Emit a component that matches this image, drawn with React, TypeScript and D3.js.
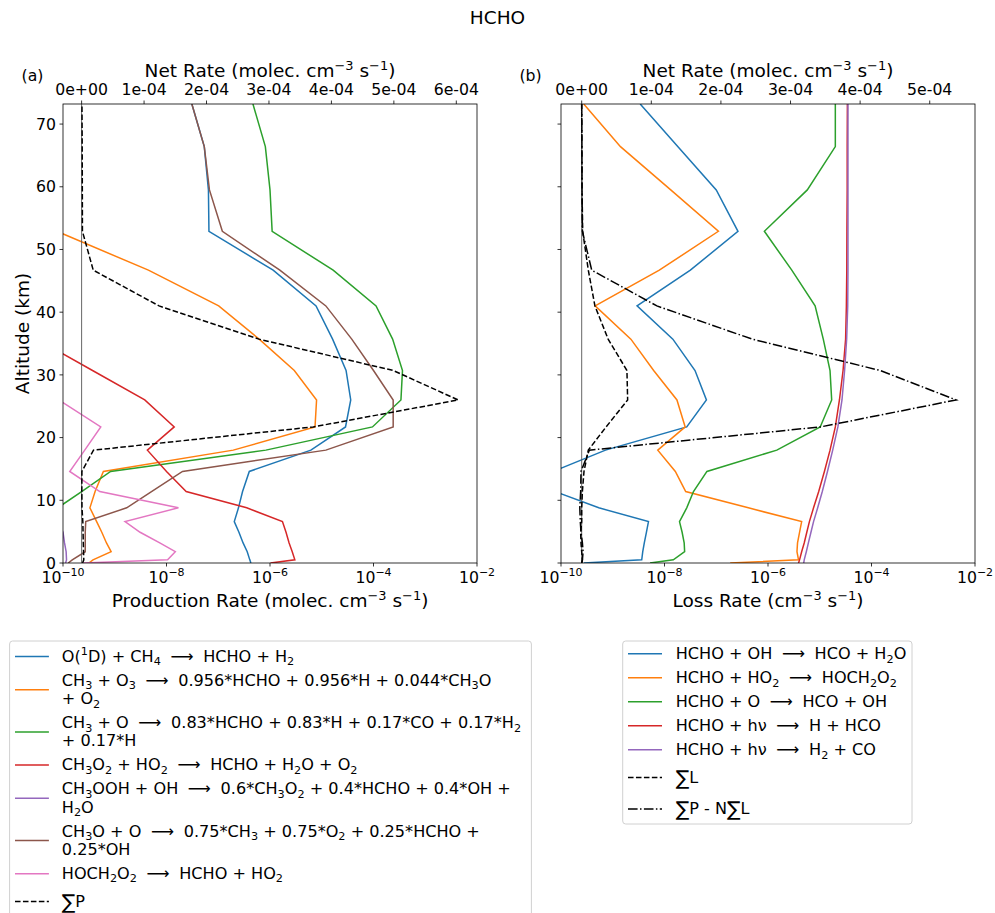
import React from "react";
import * as d3 from "d3";

// Altitude levels (km)
const ALT = [0, 0.5, 1.8, 3.2, 4.9, 6.6, 8.8, 11.4, 14.6, 18.0, 21.7, 26.0, 30.7, 35.7, 41.0, 46.7, 52.9, 59.5, 66.4, 73.2];

// (a) production rates (molec cm^-3 s^-1)
const P_O1D_CH4 = [4.27e-7, 4.07e-7, 3.63e-7, 3.02e-7, 2.51e-7, 2.04e-7, 2.46e-7, 2.95e-7, 3.98e-7, 6.17e-6, 2.88e-5, 3.63e-5, 2.95e-5, 1.62e-5, 7.76e-6, 1.15e-6, 6.61e-8, 6.46e-8, 5.37e-8, 3.09e-8];
const P_CH3_O3 = [3.16e-10, 3.8e-10, 8.51e-10, 6.92e-10, 5.62e-10, 4.47e-10, 3.31e-10, 4.17e-10, 6.03e-10, 1.95e-7, 7.41e-6, 7.94e-6, 2.95e-6, 6.17e-7, 1.02e-7, 4.47e-9, 7.59e-11, 1e-11, 1e-12, 1e-13];
const P_CH3_O = [1e-11, 1e-11, 1e-11, 1e-11, 1.6e-11, 2.5e-11, 7.94e-11, 2.29e-10, 8.32e-10, 8.32e-7, 9.55e-5, 3.39e-4, 3.63e-4, 2.34e-4, 1.12e-4, 1.66e-5, 1.1e-6, 1.0e-6, 8.13e-7, 4.68e-7];
const P_CH3O2_HO2 = [1.02e-6, 3.02e-6, 2.69e-6, 2.34e-6, 2.04e-6, 1.74e-6, 3.55e-7, 2.4e-8, 1.0e-8, 4.27e-9, 1.41e-8, 3.8e-9, 3.72e-10, 3.16e-11, 1e-12, 1e-13, 1e-14, 1e-14, 1e-14, 1e-14];
const P_CH3OOH_OH = [1.12e-10, 1.17e-10, 1.15e-10, 1.07e-10, 1.0e-10, 7.94e-11, 5.01e-11, 3e-11, 2e-11, 1e-11, 1e-11, 1e-11, 1e-11, 1e-11, 1e-11, 1e-11, 1e-11, 1e-11, 1e-11, 1e-11];
const P_CH3O_O = [1.26e-10, 1.51e-10, 2.69e-10, 2.69e-10, 2.69e-10, 2.75e-10, 1.7e-9, 5.13e-9, 2.04e-8, 1.2e-5, 2.4e-4, 2.4e-4, 1.0e-4, 3.8e-5, 1.2e-5, 1.55e-6, 1.2e-7, 6.76e-8, 5.37e-8, 3.09e-8];
const P_HOCH2O2 = [2.45e-10, 1.05e-8, 1.48e-8, 7.41e-9, 3.09e-9, 1.58e-9, 1.7e-8, 5.13e-10, 1.35e-10, 2.63e-10, 5.37e-10, 8.32e-11, 1e-11, 1e-12, 1e-13, 1e-13, 1e-13, 1e-13, 1e-13, 1e-13];
const SUM_P = [1.5e-6, 3.5e-6, 3.1e-6, 2.7e-6, 2.3e-6, 1.95e-6, 6.0e-7, 3.2e-7, 4.3e-7, 1.9e-5, 3.71e-4, 6.03e-4, 4.99e-4, 2.84e-4, 1.24e-4, 1.86e-5, 1.3e-6, 1.13e-6, 9.2e-7, 5.3e-7];

// (b) loss rates (cm^-3 s^-1)
const L_OH = [2.75e-10, 3.63e-9, 3.8e-9, 4.07e-9, 4.47e-9, 4.9e-9, 5.37e-10, 7.59e-11, 7.08e-11, 7.24e-10, 2.69e-8, 6.46e-8, 3.89e-8, 1.45e-8, 2.95e-9, 3.16e-8, 2.63e-7, 1.0e-7, 1.82e-8, 3.39e-9];
const L_HO2 = [1.86e-7, 3.89e-6, 3.63e-6, 3.72e-6, 4.07e-6, 4.47e-6, 4.17e-7, 2.57e-8, 1.62e-8, 7.41e-9, 2.51e-8, 1.74e-8, 6.17e-9, 2.24e-9, 4.57e-10, 7.94e-9, 1.1e-7, 1.32e-8, 1.41e-9, 2.75e-10];
const L_O = [5.25e-9, 1.48e-8, 2.45e-8, 2.4e-8, 2.19e-8, 1.95e-8, 2.69e-8, 3.63e-8, 6.61e-8, 1.48e-6, 1.02e-5, 1.7e-5, 1.58e-5, 1.17e-5, 8.13e-6, 2.88e-6, 8.51e-7, 5.75e-6, 2.0e-5, 2.0e-5];
const L_HV_H = [3.89e-6, 4.07e-6, 4.47e-6, 5.01e-6, 5.62e-6, 6.31e-6, 7.59e-6, 9.55e-6, 1.23e-5, 1.58e-5, 2.0e-5, 2.4e-5, 2.82e-5, 3.16e-5, 3.27e-5, 3.33e-5, 3.35e-5, 3.39e-5, 3.39e-5, 3.42e-5];
const L_HV_H2 = [4.9e-6, 5.01e-6, 5.5e-6, 6.03e-6, 6.76e-6, 7.59e-6, 9.12e-6, 1.12e-5, 1.41e-5, 1.78e-5, 2.24e-5, 2.69e-5, 3.02e-5, 3.31e-5, 3.47e-5, 3.51e-5, 3.51e-5, 3.51e-5, 3.51e-5, 3.51e-5];
const SUM_L = [0, 1e-6, 0, -1e-6, -1.5e-6, 0, 0, 1e-6, 3.3e-6, 9.5e-6, 3.5e-5, 6.6e-5, 6.5e-5, 3.8e-5, 1.9e-5, 9.5e-6, 1.4e-6, 5e-7, 3e-7, 0];
const NET = [0, 1e-6, 2e-6, 1e-6, -1e-6, -2e-6, -2.7e-6, -1.5e-6, -1e-6, 1.1e-5, 3.43e-4, 5.38e-4, 4.29e-4, 2.45e-4, 1.08e-4, 1.44e-5, 1e-6, 5e-7, 3e-7, 0];

const LOG_TICKS = [1e-10, 1e-8, 1e-6, 1e-4, 1e-2];
const ALT_TICKS = [0, 10, 20, 30, 40, 50, 60, 70];
const NET_TICKS_A = [0, 1e-4, 2e-4, 3e-4, 4e-4, 5e-4, 6e-4];
const NET_TICKS_B = [0, 1e-4, 2e-4, 3e-4, 4e-4, 5e-4];

const PROD_LABELS = [
  ["O(^{1}D) + CH_{4} ⟶ HCHO + H_{2}"],
  ["CH_{3} + O_{3} ⟶ 0.956*HCHO + 0.956*H + 0.044*CH_{3}O", "+ O_{2}"],
  ["CH_{3} + O ⟶ 0.83*HCHO + 0.83*H + 0.17*CO + 0.17*H_{2}", "+ 0.17*H"],
  ["CH_{3}O_{2} + HO_{2} ⟶ HCHO + H_{2}O + O_{2}"],
  ["CH_{3}OOH + OH ⟶ 0.6*CH_{3}O_{2} + 0.4*HCHO + 0.4*OH +", "H_{2}O"],
  ["CH_{3}O + O ⟶ 0.75*CH_{3} + 0.75*O_{2} + 0.25*HCHO +", "0.25*OH"],
  ["HOCH_{2}O_{2} ⟶ HCHO + HO_{2}"],
  ["∑P"],
];
const LOSS_LABELS = [
  ["HCHO + OH ⟶ HCO + H_{2}O"],
  ["HCHO + HO_{2} ⟶ HOCH_{2}O_{2}"],
  ["HCHO + O ⟶ HCO + OH"],
  ["HCHO + hν ⟶ H + HCO"],
  ["HCHO + hν ⟶ H_{2} + CO"],
  ["∑L"],
  ["∑P - N∑L"],
];

const C = ["#1f77b4", "#ff7f0e", "#2ca02c", "#d62728", "#9467bd", "#8c564b", "#e377c2"];
const FONT = "'DejaVu Sans', sans-serif";
const FS = 15.7;
const FLEG = 16.1;
const FL = 18.5;
const LW = 1.5;
const DASH = "5.55,2.4";
const DASHDOT = "9.6,2.4,1.5,2.4";

function rich(text: string, size: number) {
  const parts = text.split(/(_\{[^}]*\}|\^\{[^}]*\}|∑|⟶)/).filter((s) => s.length > 0);
  let cur = 0;
  let pend = 0;
  return parts.map((p, i) => {
    let target = 0;
    let content = p;
    let fs = size;
    let dx = pend;
    pend = 0;
    if (p.startsWith("_{")) {
      target = 0.22 * size;
      content = p.slice(2, -1);
      fs = size * 0.7;
    } else if (p.startsWith("^{")) {
      target = -0.4 * size;
      content = p.slice(2, -1);
      fs = size * 0.7;
    } else if (p === "∑") {
      target = 0.12 * size;
      fs = size * 1.25;
    } else if (p === "⟶") {
      dx += 0.28 * size;
      pend = 0.28 * size;
    }
    const dy = target - cur;
    cur = target;
    return (
      <tspan key={i} dx={dx || undefined} dy={dy} fontSize={fs}>
        {content}
      </tspan>
    );
  });
}

function fmtE(v: number) {
  if (v === 0) return "0e+00";
  const [m, e] = v.toExponential(0).split("e");
  const sign = e[0] === "-" ? "-" : "+";
  return `${m}e${sign}${e.replace(/[+-]/, "").padStart(2, "0")}`;
}

function padDomain(arrs: number[][]): [number, number] {
  const all = arrs.flat();
  const mn = d3.min(all) as number;
  const mx = d3.max(all) as number;
  const m = (mx - mn) * 0.05;
  return [mn - m, mx + m];
}

type Series = { vals: number[]; color: string; dash?: string };

function Panel(props: {
  id: string;
  x0: number;
  x1: number;
  yTop: number;
  yBot: number;
  logSeries: Series[];
  linSeries: Series[];
  netTicks: number[];
  linDomain: [number, number];
  showYLabels: boolean;
  xlabel: string;
  tag: string;
}) {
  const { id, x0, x1, yTop, yBot } = props;
  const y = d3.scaleLinear().domain([0, 73.2]).range([yBot, yTop]);
  const xLog = d3.scaleLog().domain([1e-10, 1e-2]).range([x0, x1]);
  const xLin = d3.scaleLinear().domain(props.linDomain).range([x0, x1]);
  const mk = (sx: (v: number) => number) =>
    d3
      .line<number>()
      .x((d) => sx(d))
      .y((_, i) => y(ALT[i]));
  const logLine = mk((v) => xLog(Math.max(v, 1e-20)));
  const linLine = mk((v) => xLin(v));
  const cx = (x0 + x1) / 2;
  const TL = 3.5;
  return (
    <g>
      <defs>
        <clipPath id={id}>
          <rect x={x0} y={yTop} width={x1 - x0} height={yBot - yTop} />
        </clipPath>
      </defs>
      <g clipPath={`url(#${id})`} fill="none" strokeWidth={LW}>
        {props.logSeries.map((s, i) => (
          <path key={i} d={logLine(s.vals) || ""} stroke={s.color} strokeDasharray={s.dash} />
        ))}
        <line x1={xLin(0)} x2={xLin(0)} y1={yTop} y2={yBot} stroke="#555" strokeWidth={0.9} />
        {props.linSeries.map((s, i) => (
          <path key={i} d={linLine(s.vals) || ""} stroke={s.color} strokeDasharray={s.dash} />
        ))}
      </g>
      <rect x={x0} y={yTop} width={x1 - x0} height={yBot - yTop} fill="none" stroke="#000" strokeWidth={0.8} />
      {ALT_TICKS.map((t) => (
        <g key={t}>
          <line x1={x0 - TL} x2={x0} y1={y(t)} y2={y(t)} stroke="#000" strokeWidth={0.8} />
          {props.showYLabels && (
            <text x={x0 - TL - 3.5} y={y(t) + 5.7} textAnchor="end" fontSize={FS} fontFamily={FONT}>
              {t}
            </text>
          )}
        </g>
      ))}
      {LOG_TICKS.map((t) => {
        const e = Math.round(Math.log10(t));
        return (
          <g key={t}>
            <line x1={xLog(t)} x2={xLog(t)} y1={yBot} y2={yBot + TL} stroke="#000" strokeWidth={0.8} />
            <text x={xLog(t)} y={yBot + 19.7} textAnchor="middle" fontSize={FS} fontFamily={FONT} style={{ whiteSpace: "pre" }}>
              {rich(`10^{${e < 0 ? "−" : ""}${Math.abs(e)}}`, FS)}
            </text>
          </g>
        );
      })}
      {props.netTicks.map((t) => (
        <g key={t}>
          <line x1={xLin(t)} x2={xLin(t)} y1={yTop} y2={yTop - TL} stroke="#000" strokeWidth={0.8} />
          <text x={xLin(t)} y={yTop - 9} textAnchor="middle" fontSize={FS} fontFamily={FONT}>
            {fmtE(t)}
          </text>
        </g>
      ))}
      <text x={cx} y={yTop - 26.6} textAnchor="middle" fontSize={FL} fontFamily={FONT} style={{ whiteSpace: "pre" }}>
        {rich("Net Rate (molec. cm^{−3} s^{−1})", FL)}
      </text>
      <text x={cx} y={yBot + 44} textAnchor="middle" fontSize={FL} fontFamily={FONT} style={{ whiteSpace: "pre" }}>
        {rich(props.xlabel, FL)}
      </text>
      <text x={x0 - 30.5} y={yTop - 23} textAnchor="middle" fontSize={FS} fontFamily={FONT}>
        {props.tag}
      </text>
    </g>
  );
}

type Item = { lines: string[]; color: string; dash?: string };

function Legend(props: {
  bx: number;
  by: number;
  bw: number;
  bh: number;
  hx0: number;
  hx1: number;
  tx: number;
  c0: number;
  items: Item[];
}) {
  const LS = 18.3;
  const rows: { c: number; item: Item; sig: boolean }[] = [];
  props.items.forEach((it, i) => {
    const sig = it.lines[0].includes("∑");
    let c = props.c0;
    if (i > 0) {
      const prev = rows[i - 1];
      c = prev.c + (prev.item.lines.length - 1) * LS + 24 + (prev.sig ? 3.7 : 0) + (sig ? 3.7 : 0);
    }
    rows.push({ c, item: it, sig });
  });
  return (
    <g>
      <rect x={props.bx} y={props.by} width={props.bw} height={props.bh} rx={3} fill="#fff" fillOpacity={0.8} stroke="#d0d0d0" strokeWidth={1} />
      {rows.map((r, i) => {
        const mid = r.c + ((r.item.lines.length - 1) * LS) / 2;
        return (
          <g key={i}>
            <line x1={props.hx0} x2={props.hx1} y1={mid + 0.5} y2={mid + 0.5} stroke={r.item.color} strokeWidth={LW} strokeDasharray={r.item.dash} />
            {r.item.lines.map((ln, j) => (
              <text key={j} x={props.tx} y={r.c + j * LS + 5.7} fontSize={FLEG} fontFamily={FONT} style={{ whiteSpace: "pre" }}>
                {rich(ln, FLEG)}
              </text>
            ))}
          </g>
        );
      })}
    </g>
  );
}

export default function App() {
  const W = 995;
  const H = 913;
  const yTop = 104;
  const yBot = 563;
  const prodLog: Series[] = [P_O1D_CH4, P_CH3_O3, P_CH3_O, P_CH3O2_HO2, P_CH3OOH_OH, P_CH3O_O, P_HOCH2O2].map((v, i) => ({ vals: v, color: C[i] }));
  const lossLog: Series[] = [L_OH, L_HO2, L_O, L_HV_H, L_HV_H2].map((v, i) => ({ vals: v, color: C[i] }));
  const prodItems: Item[] = PROD_LABELS.map((l, i) => ({ lines: l, color: i < 7 ? C[i] : "#000", dash: i === 7 ? DASH : undefined }));
  const lossItems: Item[] = LOSS_LABELS.map((l, i) => ({
    lines: l,
    color: i < 5 ? C[i] : "#000",
    dash: i === 5 ? DASH : i === 6 ? DASHDOT : undefined,
  }));
  return (
    <svg width={W} height={H} style={{ position: "absolute", left: 0, top: 0, background: "#fff" }} xmlns="http://www.w3.org/2000/svg">
      <rect x={0} y={0} width={W} height={H} fill="#fff" />
      <text x={497.5} y={23.5} textAnchor="middle" fontSize={FL} fontFamily={FONT}>
        HCHO
      </text>
      <Panel
        id="clipA"
        x0={63}
        x1={477}
        yTop={yTop}
        yBot={yBot}
        logSeries={prodLog}
        linSeries={[{ vals: SUM_P, color: "#000", dash: DASH }]}
        netTicks={NET_TICKS_A}
        linDomain={padDomain([SUM_P])}
        showYLabels={true}
        xlabel="Production Rate (molec. cm^{−3} s^{−1})"
        tag="(a)"
      />
      <Panel
        id="clipB"
        x0={561}
        x1={975}
        yTop={yTop}
        yBot={yBot}
        logSeries={lossLog}
        linSeries={[
          { vals: SUM_L, color: "#000", dash: DASH },
          { vals: NET, color: "#000", dash: DASHDOT },
        ]}
        netTicks={NET_TICKS_B}
        linDomain={padDomain([SUM_L, NET])}
        showYLabels={false}
        xlabel="Loss Rate (cm^{−3} s^{−1})"
        tag="(b)"
      />
      <text x={28.7} y={333.5} transform="rotate(-90, 28.7, 333.5)" textAnchor="middle" fontSize={FL} fontFamily={FONT}>
        Altitude (km)
      </text>
      <Legend bx={9.6} by={641} bw={521.8} bh={300} hx0={15} hx1={48.9} tx={61.8} c0={656} items={prodItems} />
      <Legend bx={622.7} by={641} bw={289.3} bh={183} hx0={628} hx1={662} tx={675.7} c0={653.3} items={lossItems} />
    </svg>
  );
}
